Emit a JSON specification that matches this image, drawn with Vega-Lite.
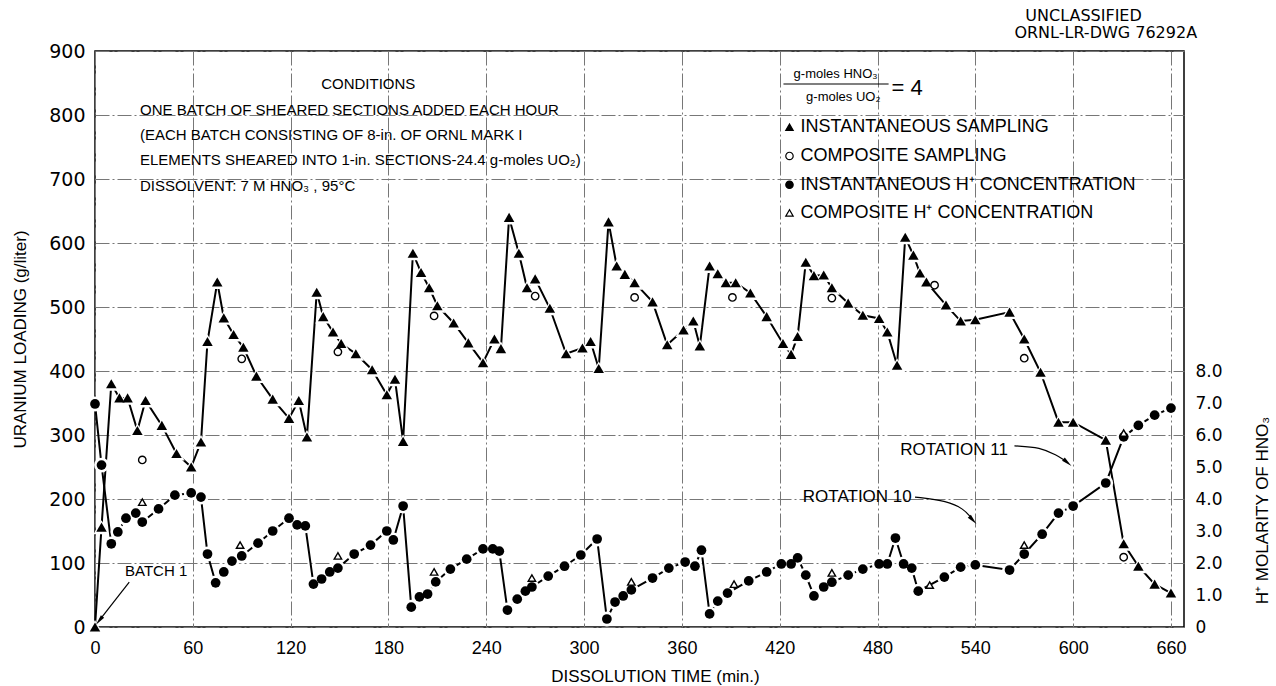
{
  "$schema": "https://vega.github.io/schema/vega-lite/v6.json",
  "width": 1089,
  "height": 576,
  "autosize": {"type": "none"},
  "padding": {"left": 95, "top": 51, "right": 92, "bottom": 59},
  "background": "white",
  "config": {
    "view": {"stroke": "black", "strokeWidth": 1.5},
    "font": "Liberation Sans",
    "axis": {"domain": false, "ticks": false, "labelFlush": false, "labelColor": "black", "titleColor": "black", "titleFontWeight": "normal"}
  },
  "datasets": {
    "u_inst": [
      {"t":0,"u":0},{"t":4,"u":156},{"t":10,"u":380},{"t":15,"u":358},{"t":20,"u":358},{"t":26,"u":307},{"t":31,"u":354},{"t":41,"u":315},{"t":50,"u":271},{"t":59,"u":250},
      {"t":65,"u":289},{"t":69,"u":446},{"t":75,"u":539},{"t":79,"u":483},{"t":85,"u":457},{"t":91,"u":437},{"t":99,"u":392},{"t":109,"u":356},{"t":119,"u":326},{"t":125,"u":354},{"t":130,"u":297},
      {"t":136,"u":523},{"t":140,"u":485},{"t":146,"u":461},{"t":151,"u":443},{"t":160,"u":427},{"t":170,"u":402},{"t":179,"u":363},{"t":184,"u":387},{"t":189,"u":290},
      {"t":195,"u":584},{"t":200,"u":554},{"t":205,"u":530},{"t":210,"u":502},{"t":220,"u":475},{"t":229,"u":444},{"t":238,"u":413},{"t":245,"u":450},{"t":249,"u":435},
      {"t":254,"u":640},{"t":260,"u":584},{"t":265,"u":530},{"t":270,"u":544},{"t":279,"u":498},{"t":289,"u":427},{"t":299,"u":436},{"t":304,"u":446},{"t":309,"u":404},
      {"t":315,"u":633},{"t":320,"u":564},{"t":325,"u":551},{"t":331,"u":538},{"t":342,"u":508},{"t":351,"u":441},{"t":361,"u":464},{"t":367,"u":478},{"t":371,"u":439},
      {"t":377,"u":564},{"t":382,"u":552},{"t":387,"u":538},{"t":393,"u":538},{"t":402,"u":522},{"t":412,"u":485},{"t":422,"u":443},{"t":427,"u":426},{"t":431,"u":454},
      {"t":436,"u":570},{"t":441,"u":549},{"t":447,"u":550},{"t":452,"u":530},{"t":462,"u":506},{"t":471,"u":487},{"t":481,"u":482},{"t":486,"u":461},{"t":492,"u":409},
      {"t":497,"u":609},{"t":502,"u":581},{"t":506,"u":553},{"t":510,"u":539},{"t":522,"u":503},{"t":531,"u":478},{"t":540,"u":480},
      {"t":561,"u":492},{"t":570,"u":450},{"t":580,"u":398},{"t":591,"u":320},{"t":600,"u":320},{"t":620,"u":292},{"t":631,"u":130},{"t":640,"u":95},{"t":650,"u":67},{"t":660,"u":53}
    ],
    "u_comp": [
      {"t":29,"u":261},{"t":90,"u":419},{"t":149,"u":430},{"t":208,"u":486},{"t":270,"u":517},{"t":331,"u":515},{"t":391,"u":515},{"t":452,"u":514},{"t":515,"u":534},{"t":570,"u":420},{"t":631,"u":109}
    ],
    "h_inst": [
      {"t":0,"h":6.97},{"t":4,"h":5.06},{"t":10,"h":2.6},{"t":14,"h":2.97},{"t":19,"h":3.4},{"t":25,"h":3.56},{"t":29,"h":3.28},{"t":39,"h":3.69},{"t":49,"h":4.12},{"t":59,"h":4.19},{"t":65,"h":4.06},
      {"t":69,"h":2.28},{"t":74,"h":1.38},{"t":79,"h":1.72},{"t":84,"h":2.06},{"t":90,"h":2.22},{"t":100,"h":2.62},{"t":109,"h":3.0},{"t":119,"h":3.4},{"t":124,"h":3.19},{"t":129,"h":3.16},
      {"t":134,"h":1.34},{"t":139,"h":1.5},{"t":144,"h":1.72},{"t":149,"h":1.84},{"t":159,"h":2.28},{"t":169,"h":2.56},{"t":179,"h":3.0},{"t":183,"h":2.72},{"t":189,"h":3.78},
      {"t":194,"h":0.62},{"t":199,"h":0.94},{"t":204,"h":1.03},{"t":209,"h":1.41},{"t":218,"h":1.81},{"t":228,"h":2.12},{"t":238,"h":2.44},{"t":244,"h":2.44},{"t":248,"h":2.37},
      {"t":253,"h":0.53},{"t":259,"h":0.87},{"t":264,"h":1.12},{"t":268,"h":1.25},{"t":278,"h":1.59},{"t":288,"h":1.9},{"t":298,"h":2.25},{"t":308,"h":2.75},
      {"t":314,"h":0.25},{"t":319,"h":0.78},{"t":324,"h":0.97},{"t":329,"h":1.16},{"t":342,"h":1.53},{"t":352,"h":1.84},{"t":362,"h":2.03},{"t":368,"h":1.9},{"t":372,"h":2.4},
      {"t":377,"h":0.41},{"t":382,"h":0.81},{"t":388,"h":1.06},{"t":401,"h":1.44},{"t":412,"h":1.72},{"t":421,"h":1.97},{"t":427,"h":1.97},{"t":431,"h":2.16},
      {"t":436,"h":1.62},{"t":441,"h":0.97},{"t":447,"h":1.25},{"t":452,"h":1.4},{"t":462,"h":1.62},{"t":471,"h":1.81},{"t":481,"h":1.97},{"t":486,"h":1.97},{"t":491,"h":2.78},
      {"t":496,"h":1.97},{"t":501,"h":1.84},{"t":505,"h":1.12},{"t":521,"h":1.56},{"t":531,"h":1.87},{"t":540,"h":1.94},
      {"t":561,"h":1.78},{"t":570,"h":2.28},{"t":581,"h":2.9},{"t":591,"h":3.56},{"t":600,"h":3.78},{"t":620,"h":4.5},{"t":631,"h":5.94},{"t":640,"h":6.3},{"t":650,"h":6.62},{"t":660,"h":6.84}
    ],
    "h_comp": [
      {"t":29,"h":3.9},{"t":89,"h":2.56},{"t":149,"h":2.22},{"t":208,"h":1.72},{"t":268,"h":1.53},{"t":329,"h":1.41},{"t":392,"h":1.34},{"t":452,"h":1.69},{"t":512,"h":1.31},{"t":570,"h":2.56},{"t":631,"h":6.06}
    ],
    "batches": [
      {"t":65,"label":"2"},{"t":125,"label":"3"},{"t":184,"label":"4"},{"t":245,"label":"5"},{"t":304,"label":"6"},{"t":368,"label":"7"},{"t":427,"label":"8"},{"t":487,"label":"9"}
    ],
    "conditions": [
      {"t":27.6,"u":808,"text":"ONE BATCH OF SHEARED SECTIONS ADDED EACH HOUR"},
      {"t":27.6,"u":769,"text":"(EACH BATCH CONSISTING OF 8-in. OF ORNL MARK I"},
      {"t":27.6,"u":730,"text":"ELEMENTS SHEARED INTO 1-in. SECTIONS-24.4 g-moles UO₂)"},
      {"t":27.6,"u":689,"text":"DISSOLVENT: 7 M HNO₃ , 95°C"}
    ],
    "legend": [
      {"t":426,"u":781,"series":"INSTANTANEOUS SAMPLING"},
      {"t":426,"u":736,"series":"COMPOSITE SAMPLING"},
      {"t":426,"u":691,"series":"INSTANTANEOUS H⁺ CONCENTRATION"},
      {"t":426,"u":647,"series":"COMPOSITE H⁺ CONCENTRATION"}
    ],
    "arrows": [
      {"t":21,"u":70,"arrow":"b1"},{"t":3.5,"u":13,"arrow":"b1"},
      {"t":503,"u":203,"arrow":"r10"},{"t":523,"u":197,"arrow":"r10"},{"t":533,"u":184,"arrow":"r10"},{"t":537,"u":172,"arrow":"r10"},
      {"t":564,"u":283,"arrow":"r11"},{"t":580,"u":281,"arrow":"r11"},{"t":590,"u":268,"arrow":"r11"},{"t":594.5,"u":261,"arrow":"r11"}
    ]
  },
  "encoding": {
    "x": {
      "field": "t", "type": "quantitative",
      "scale": {"domain": [0, 668], "nice": false, "zero": false},
      "axis": {
        "values": [0,60,120,180,240,300,360,420,480,540,600,660],
        "grid": true, "gridColor": "#777", "gridDash": [14,3,2,3], "gridWidth": 1,
        "labelFont": "Liberation Sans", "labelFontSize": 18, "labelPadding": 12,
        "title": "DISSOLUTION TIME (min.)", "titleFont": "Liberation Sans", "titleFontSize": 17,
        "titleX": 560, "titleY": 49, "titleBaseline": "middle", "titleAlign": "center"
      }
    }
  },
  "layer": [
    {
      "encoding": {
        "y": {
          "field": "u", "type": "quantitative",
          "scale": {"domain": [0, 900], "nice": false, "zero": false},
          "axis": {
            "orient": "left",
            "values": [0,100,200,300,400,500,600,700,800,900],
            "grid": true, "gridColor": "#777", "gridDash": [14,3,2,3], "gridWidth": 1,
            "labelFont": "DejaVu Sans", "labelFontSize": 19, "labelPadding": 10,
            "title": "URANIUM LOADING (g/liter)", "titleFontSize": 17,
            "titleX": -75, "titleY": 288, "titleAngle": 270, "titleAlign": "center", "titleBaseline": "middle"
          }
        }
      },
      "layer": [
        {"data": {"name": "u_inst"}, "mark": {"type": "line", "color": "black", "strokeWidth": 2}},
        {"data": {"name": "u_inst"}, "mark": {"type": "point", "shape": "triangle-up", "filled": true, "color": "white", "opacity": 1, "size": 260}},
        {"data": {"name": "u_inst"}, "mark": {"type": "point", "shape": "triangle-up", "filled": true, "color": "black", "opacity": 1, "size": 110}},
        {"data": {"name": "u_comp"}, "mark": {"type": "point", "shape": "circle", "filled": true, "fill": "white", "stroke": "black", "strokeWidth": 1.4, "opacity": 1, "size": 55}},
        {"data": {"name": "batches"}, "mark": {"type": "rule", "color": "black", "strokeWidth": 1.2}, "encoding": {"y": {"datum": 0}, "y2": {"datum": 24}}},
        {"data": {"name": "batches"}, "mark": {"type": "text", "fontSize": 20, "align": "center", "baseline": "middle", "color": "black"}, "encoding": {"y": {"datum": 39}, "text": {"field": "label"}}},
        {"data": {"name": "conditions"}, "mark": {"type": "text", "fontSize": 15, "align": "left", "baseline": "middle", "color": "black"}, "encoding": {"text": {"field": "text"}}},
        {"data": {"values": [{"t": 167.6, "u": 848, "text": "CONDITIONS"}]}, "mark": {"type": "text", "fontSize": 15, "align": "center", "baseline": "middle", "color": "black"}, "encoding": {"text": {"field": "text"}}},
        {"data": {"values": [{"t": 454.3, "u": 864, "text": "g-moles HNO₃"}, {"t": 459, "u": 828, "text": "g-moles UO₂"}]}, "mark": {"type": "text", "fontSize": 13, "align": "center", "baseline": "middle", "color": "black"}, "encoding": {"text": {"field": "text"}}},
        {"data": {"values": [{"t": 422.3, "t2": 486.8, "u": 848.4}]}, "mark": {"type": "rule", "color": "black", "strokeWidth": 1.2}, "encoding": {"x2": {"field": "t2"}}},
        {"data": {"values": [{"t": 488.6, "u": 842, "text": "=  4"}]}, "mark": {"type": "text", "fontSize": 22, "align": "left", "baseline": "middle", "color": "black"}, "encoding": {"text": {"field": "text"}}},
        {"data": {"name": "legend"}, "mark": {"type": "point", "filled": true, "stroke": "black", "strokeWidth": 1.2, "opacity": 1, "size": 55},
          "encoding": {
            "shape": {"field": "series", "type": "nominal", "legend": null, "scale": {"domain": ["INSTANTANEOUS SAMPLING", "COMPOSITE SAMPLING", "INSTANTANEOUS H⁺ CONCENTRATION", "COMPOSITE H⁺ CONCENTRATION"], "range": ["triangle-up", "circle", "circle", "triangle-up"]}},
            "fill": {"field": "series", "type": "nominal", "legend": null, "scale": {"domain": ["INSTANTANEOUS SAMPLING", "COMPOSITE SAMPLING", "INSTANTANEOUS H⁺ CONCENTRATION", "COMPOSITE H⁺ CONCENTRATION"], "range": ["black", "white", "black", "white"]}}
          }},
        {"data": {"name": "legend"}, "mark": {"type": "text", "fontSize": 18, "align": "left", "baseline": "middle", "dx": 11, "color": "black"}, "encoding": {"text": {"field": "series"}}},
        {"data": {"values": [{"t": 18.4, "u": 88, "text": "BATCH 1"}]}, "mark": {"type": "text", "fontSize": 15, "align": "left", "baseline": "middle", "color": "black"}, "encoding": {"text": {"field": "text"}}},
        {"data": {"values": [{"t": 501, "u": 203, "text": "ROTATION 10"}, {"t": 560, "u": 277, "text": "ROTATION 11"}]}, "mark": {"type": "text", "fontSize": 17, "align": "right", "baseline": "middle", "color": "black"}, "encoding": {"text": {"field": "text"}}},
        {"data": {"name": "arrows"}, "mark": {"type": "line", "color": "black", "strokeWidth": 1.2, "interpolate": "basis"}, "encoding": {"detail": {"field": "arrow"}}},
        {"data": {"values": [{"t": 2.6, "u": 10}]}, "mark": {"type": "point", "shape": "M0,-1L0.4,1L-0.4,1Z", "angle": 219, "filled": true, "color": "black", "opacity": 1, "size": 110}},
        {"data": {"values": [{"t": 538.5, "u": 167}]}, "mark": {"type": "point", "shape": "M0,-1L0.4,1L-0.4,1Z", "angle": 137, "filled": true, "color": "black", "opacity": 1, "size": 110}},
        {"data": {"values": [{"t": 596.5, "u": 257}]}, "mark": {"type": "point", "shape": "M0,-1L0.4,1L-0.4,1Z", "angle": 130, "filled": true, "color": "black", "opacity": 1, "size": 110}},
        {"data": {"values": [{"t": 606.4, "u": 955, "text": "UNCLASSIFIED"}, {"t": 620, "u": 928, "text": "ORNL-LR-DWG 76292A"}]}, "mark": {"type": "text", "font": "DejaVu Sans", "fontSize": 16, "align": "center", "baseline": "middle", "color": "black"}, "encoding": {"text": {"field": "text"}}}
      ]
    },
    {
      "encoding": {
        "y": {
          "field": "h", "type": "quantitative",
          "scale": {"domain": [0, 18], "nice": false, "zero": false},
          "axis": {
            "orient": "right",
            "values": [0,1,2,3,4,5,6,7,8],
            "labelExpr": "datum.value == 0 ? '0' : format(datum.value, '.1f')",
            "grid": false,
            "labelFont": "DejaVu Sans", "labelFontSize": 17, "labelPadding": 11,
            "title": "H⁺ MOLARITY OF HNO₃", "titleFontSize": 17,
            "titleX": 78, "titleY": 459, "titleAngle": 270, "titleAlign": "center", "titleBaseline": "middle"
          }
        }
      },
      "layer": [
        {"data": {"name": "h_inst"}, "mark": {"type": "line", "color": "black", "strokeWidth": 2}},
        {"data": {"name": "h_inst"}, "mark": {"type": "point", "shape": "circle", "filled": true, "color": "white", "opacity": 1, "size": 220}},
        {"data": {"name": "h_inst"}, "mark": {"type": "point", "shape": "circle", "filled": true, "color": "black", "opacity": 1, "size": 95}},
        {"data": {"name": "h_comp"}, "mark": {"type": "point", "shape": "triangle-up", "filled": true, "fill": "white", "stroke": "black", "strokeWidth": 1.4, "opacity": 1, "size": 55}}
      ]
    }
  ],
  "resolve": {"scale": {"y": "independent"}}
}
